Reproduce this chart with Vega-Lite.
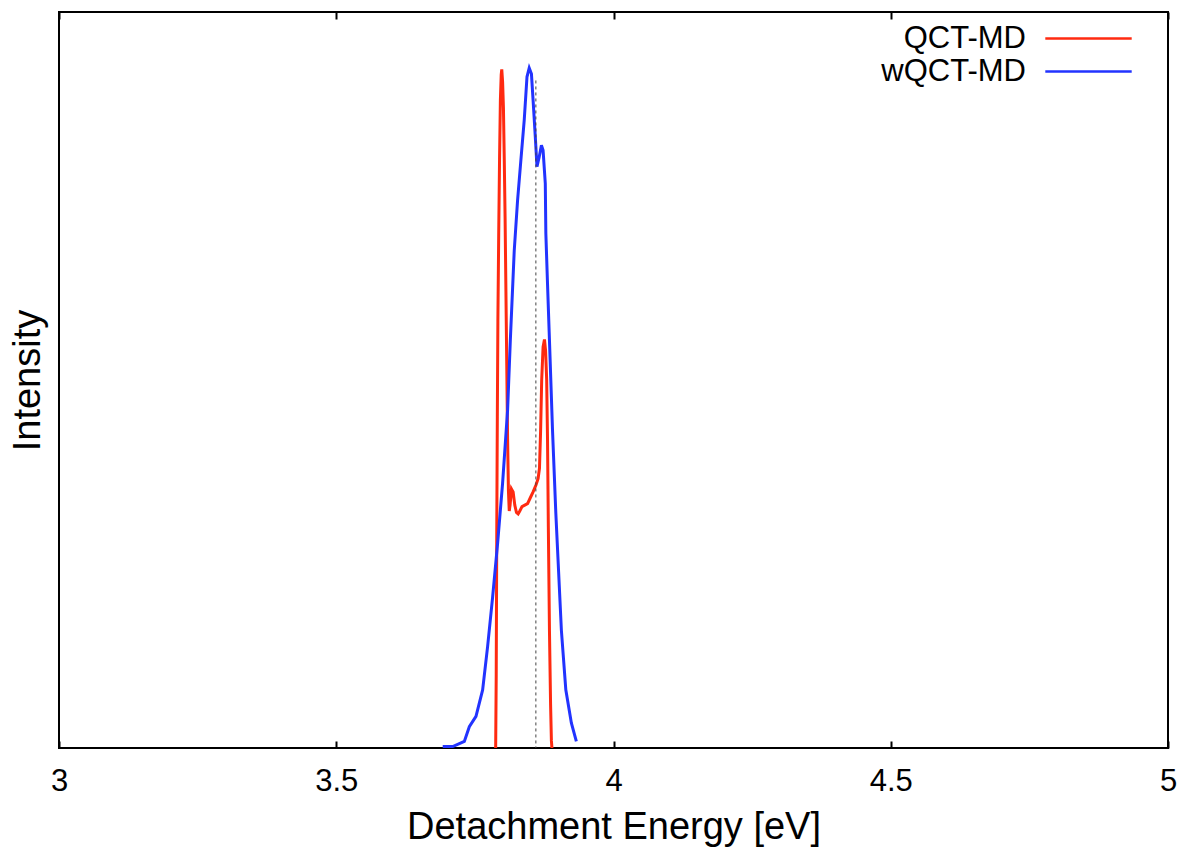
{
  "$schema": "https://vega.github.io/schema/vega-lite/v6.json",
  "width": 1109,
  "height": 736,
  "autosize": {"type": "none"},
  "padding": {"left": 59, "top": 12, "right": 17, "bottom": 104},
  "background": "white",
  "config": {
    "font": "Liberation Sans",
    "view": {"stroke": "black", "strokeWidth": 2},
    "axis": {"grid": false, "domain": false, "labelColor": "black", "titleColor": "black", "tickColor": "black", "labelFont": "Liberation Sans", "titleFont": "Liberation Sans", "titleFontWeight": "normal"}
  },
  "datasets": {
    "curves": [
      {"series": "QCT-MD", "E": 3.7875, "I": 0},
      {"series": "QCT-MD", "E": 3.7885, "I": 0.10},
      {"series": "QCT-MD", "E": 3.7895, "I": 0.30},
      {"series": "QCT-MD", "E": 3.7905, "I": 0.45},
      {"series": "QCT-MD", "E": 3.7915, "I": 0.58},
      {"series": "QCT-MD", "E": 3.793, "I": 0.70},
      {"series": "QCT-MD", "E": 3.7945, "I": 0.80},
      {"series": "QCT-MD", "E": 3.796, "I": 0.88},
      {"series": "QCT-MD", "E": 3.7975, "I": 0.915},
      {"series": "QCT-MD", "E": 3.7985, "I": 0.922},
      {"series": "QCT-MD", "E": 3.800, "I": 0.905},
      {"series": "QCT-MD", "E": 3.8015, "I": 0.87},
      {"series": "QCT-MD", "E": 3.803, "I": 0.80},
      {"series": "QCT-MD", "E": 3.8045, "I": 0.72},
      {"series": "QCT-MD", "E": 3.806, "I": 0.62},
      {"series": "QCT-MD", "E": 3.8075, "I": 0.52},
      {"series": "QCT-MD", "E": 3.809, "I": 0.42},
      {"series": "QCT-MD", "E": 3.8105, "I": 0.35},
      {"series": "QCT-MD", "E": 3.812, "I": 0.322},
      {"series": "QCT-MD", "E": 3.8135, "I": 0.33},
      {"series": "QCT-MD", "E": 3.816, "I": 0.352},
      {"series": "QCT-MD", "E": 3.819, "I": 0.348},
      {"series": "QCT-MD", "E": 3.822, "I": 0.33},
      {"series": "QCT-MD", "E": 3.825, "I": 0.32},
      {"series": "QCT-MD", "E": 3.828, "I": 0.318},
      {"series": "QCT-MD", "E": 3.831, "I": 0.322},
      {"series": "QCT-MD", "E": 3.835, "I": 0.328},
      {"series": "QCT-MD", "E": 3.840, "I": 0.330},
      {"series": "QCT-MD", "E": 3.845, "I": 0.332},
      {"series": "QCT-MD", "E": 3.850, "I": 0.340},
      {"series": "QCT-MD", "E": 3.855, "I": 0.348},
      {"series": "QCT-MD", "E": 3.860, "I": 0.357},
      {"series": "QCT-MD", "E": 3.864, "I": 0.366},
      {"series": "QCT-MD", "E": 3.8665, "I": 0.38},
      {"series": "QCT-MD", "E": 3.8685, "I": 0.43},
      {"series": "QCT-MD", "E": 3.8705, "I": 0.50},
      {"series": "QCT-MD", "E": 3.873, "I": 0.545},
      {"series": "QCT-MD", "E": 3.8755, "I": 0.555},
      {"series": "QCT-MD", "E": 3.8775, "I": 0.54},
      {"series": "QCT-MD", "E": 3.8795, "I": 0.50},
      {"series": "QCT-MD", "E": 3.881, "I": 0.42},
      {"series": "QCT-MD", "E": 3.8825, "I": 0.30},
      {"series": "QCT-MD", "E": 3.8845, "I": 0.16},
      {"series": "QCT-MD", "E": 3.8865, "I": 0.06},
      {"series": "QCT-MD", "E": 3.888, "I": 0.01},
      {"series": "QCT-MD", "E": 3.889, "I": 0},
      {"series": "wQCT-MD", "E": 3.692, "I": 0.002},
      {"series": "wQCT-MD", "E": 3.710, "I": 0.002},
      {"series": "wQCT-MD", "E": 3.722, "I": 0.006},
      {"series": "wQCT-MD", "E": 3.731, "I": 0.009},
      {"series": "wQCT-MD", "E": 3.740, "I": 0.029},
      {"series": "wQCT-MD", "E": 3.752, "I": 0.043},
      {"series": "wQCT-MD", "E": 3.764, "I": 0.079},
      {"series": "wQCT-MD", "E": 3.773, "I": 0.138},
      {"series": "wQCT-MD", "E": 3.782, "I": 0.205},
      {"series": "wQCT-MD", "E": 3.791, "I": 0.278},
      {"series": "wQCT-MD", "E": 3.800, "I": 0.36},
      {"series": "wQCT-MD", "E": 3.809, "I": 0.459},
      {"series": "wQCT-MD", "E": 3.814, "I": 0.555},
      {"series": "wQCT-MD", "E": 3.821, "I": 0.676},
      {"series": "wQCT-MD", "E": 3.827, "I": 0.744},
      {"series": "wQCT-MD", "E": 3.833, "I": 0.799},
      {"series": "wQCT-MD", "E": 3.839, "I": 0.853},
      {"series": "wQCT-MD", "E": 3.844, "I": 0.912},
      {"series": "wQCT-MD", "E": 3.848, "I": 0.924},
      {"series": "wQCT-MD", "E": 3.852, "I": 0.916},
      {"series": "wQCT-MD", "E": 3.855, "I": 0.880},
      {"series": "wQCT-MD", "E": 3.859, "I": 0.830},
      {"series": "wQCT-MD", "E": 3.862, "I": 0.790},
      {"series": "wQCT-MD", "E": 3.866, "I": 0.803},
      {"series": "wQCT-MD", "E": 3.870, "I": 0.819},
      {"series": "wQCT-MD", "E": 3.873, "I": 0.812},
      {"series": "wQCT-MD", "E": 3.877, "I": 0.767},
      {"series": "wQCT-MD", "E": 3.878, "I": 0.699},
      {"series": "wQCT-MD", "E": 3.881, "I": 0.631},
      {"series": "wQCT-MD", "E": 3.884, "I": 0.565},
      {"series": "wQCT-MD", "E": 3.890, "I": 0.432},
      {"series": "wQCT-MD", "E": 3.896, "I": 0.319},
      {"series": "wQCT-MD", "E": 3.906, "I": 0.160},
      {"series": "wQCT-MD", "E": 3.914, "I": 0.079},
      {"series": "wQCT-MD", "E": 3.924, "I": 0.034},
      {"series": "wQCT-MD", "E": 3.933, "I": 0.009}
    ],
    "ref": [
      {"E": 3.860, "I": 0.907}
    ]
  },
  "layer": [
    {
      "data": {"name": "curves"},
      "mark": {"type": "line", "strokeWidth": 3},
      "encoding": {
        "x": {
          "field": "E", "type": "quantitative",
          "scale": {"domain": [3, 5], "nice": false, "zero": false},
          "axis": {"orient": "bottom", "offset": -7, "values": [3, 3.5, 4, 4.5, 5], "format": "~g", "labelFlush": false, "tickSize": 7, "tickWidth": 2, "labelFontSize": 31, "labelPadding": 18, "title": "Detachment Energy [eV]", "titleFontSize": 38, "titlePadding": 12}
        },
        "y": {
          "field": "I", "type": "quantitative",
          "scale": {"domain": [0, 1], "nice": false},
          "axis": {"title": "Intensity", "labels": false, "ticks": false, "titleFontSize": 38, "titlePadding": 12}
        },
        "color": {
          "field": "series", "type": "nominal",
          "scale": {"domain": ["QCT-MD", "wQCT-MD"], "range": ["#ff2a10", "#2233ff"]},
          "legend": {
            "title": null, "orient": "none", "legendX": 1012, "legendY": 9, "padding": 0,
            "symbolType": "M-2.7,0H2.7", "symbolSize": 1024, "symbolStrokeWidth": 2.5,
            "labelFontSize": 31, "labelAlign": "right", "labelOffset": -80, "labelLimit": 400,
            "rowPadding": 0, "labelColor": "black", "labelFont": "Liberation Sans"
          }
        }
      }
    },
    {
      "data": {"name": "ref"},
      "mark": {"type": "rule", "strokeDash": [3, 3], "color": "#444444", "strokeWidth": 1},
      "encoding": {
        "x": {
          "field": "E", "type": "quantitative",
          "axis": {"orient": "top", "offset": -7, "values": [3, 3.5, 4, 4.5, 5], "labels": false, "tickSize": 7, "tickWidth": 2, "title": null}
        },
        "y": {"field": "I", "type": "quantitative", "axis": {"title": "Intensity", "labels": false, "ticks": false, "titleFontSize": 38, "titlePadding": 12}},
        "y2": {"datum": 0}
      }
    }
  ],
  "resolve": {"axis": {"x": "independent"}}
}
